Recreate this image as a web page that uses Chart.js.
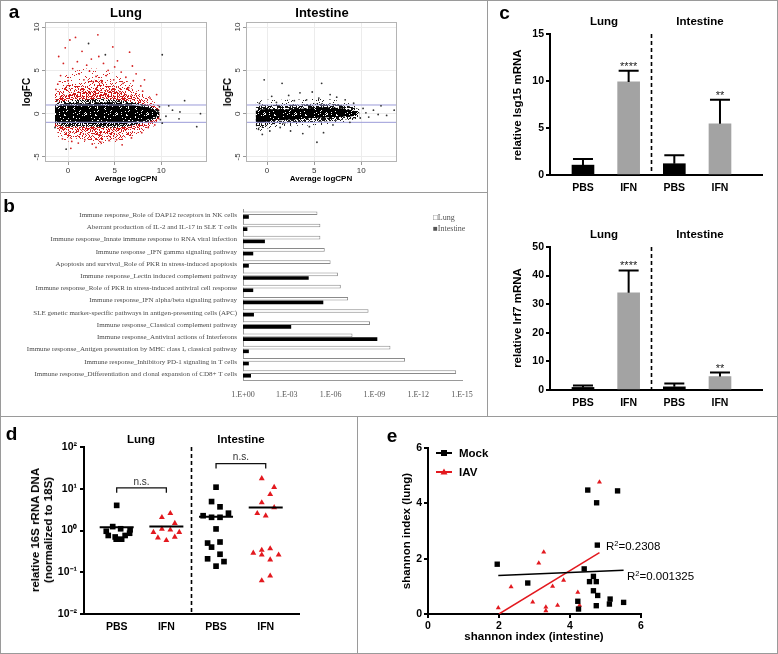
<!DOCTYPE html>
<html>
<head>
<meta charset="utf-8">
<script src="https://cdn.jsdelivr.net/npm/chart.js@4.4.0/dist/chart.umd.min.js"></script>
<style>
  body { margin: 0; background: #fff; }
  #fig { position: relative; width: 778px; height: 654px; overflow: hidden; font-family: "Liberation Sans", Arial, sans-serif; }
  #fig canvas { position: absolute; }
  .rule { position: absolute; background: #9a9a9a; }
  .lab { position: absolute; white-space: nowrap; line-height: 1; color: #000; }
  .lab sup { font-size: 0.65em; vertical-align: 0.55em; }
</style>
</head>
<body>
<div id="fig">
  <canvas id="aLung" width="215" height="192" style="left:0;top:0"></canvas>
  <canvas id="aInt" width="277" height="192" style="left:210px;top:0"></canvas>
  <canvas id="bBar" width="487" height="221" style="left:0;top:195px"></canvas>
  <canvas id="cIsg" width="283" height="210" style="left:495px;top:0"></canvas>
  <canvas id="cIrf" width="283" height="190" style="left:495px;top:230px"></canvas>
  <canvas id="dDots" width="357" height="234" style="left:0;top:420px"></canvas>
  <canvas id="eCorr" width="421" height="234" style="left:357px;top:420px"></canvas>
</div>
<script>
// ---- panel a: MA plots (envelopes of the dense clouds + scattered outliers) ----
const lungX       = [-1.4, -0.8, 0, 1, 2, 3, 4, 5, 6, 7, 8, 9, 9.8];
const lungCoreHi  = [0.6, 1.0, 1.1, 1.2, 1.2, 1.3, 1.3, 1.3, 1.2, 1.0, 0.8, 0.5, 0.2];
const lungCoreLo  = [-0.8, -1.1, -1.2, -1.2, -1.2, -1.2, -1.3, -1.3, -1.2, -1.0, -0.8, -0.5, -0.2];
const lungHaloHi  = [1.0, 1.4, 1.5, 1.6, 1.6, 1.7, 1.7, 1.6, 1.5, 1.3, 1.1, 0.8, 0.4];
const lungHaloLo  = [-1.1, -1.4, -1.5, -1.5, -1.5, -1.5, -1.6, -1.6, -1.5, -1.3, -1.1, -0.8, -0.4];
const lungRedMidHi = [1.6, 2.0, 2.3, 2.5, 2.6, 2.7, 2.7, 2.6, 2.3, 2.0, 1.6, 1.1, 0.6];
const lungRedMidLo = [-1.5, -1.9, -2.1, -2.2, -2.3, -2.4, -2.4, -2.3, -2.1, -1.8, -1.5, -1.1, -0.6];
const lungRedHi   = [2.3, 2.9, 3.3, 3.6, 3.8, 3.9, 3.9, 3.7, 3.3, 2.8, 2.2, 1.5, 0.9];
const lungRedLo   = [-1.9, -2.5, -2.8, -2.9, -3.0, -3.1, -3.2, -3.1, -2.8, -2.4, -1.9, -1.4, -0.8];
const lungRedFarHi = [3.0, 4.0, 4.6, 5.0, 5.2, 5.2, 5.0, 4.6, 4.0, 3.3, 2.6, 1.8, 1.0];
const lungRedFarLo = [-2.3, -2.9, -3.2, -3.3, -3.4, -3.5, -3.5, -3.3, -3.0, -2.6, -2.1, -1.6, -1.0];
const lungRedPts = [[0.2,8.5],[0.8,8.8],[3.2,9.1],[-0.3,7.6],[4.8,7.7],[1.5,7.2],[6.6,7.1],[-1.0,6.6],
  [2.5,6.3],[5.3,6.1],[3.8,5.8],[6.9,5.5],[0.5,5.2],[2.0,5.6],[4.3,5.0],[5.7,4.8],[7.3,4.6],[-0.8,4.4],
  [1.2,4.6],[3.0,4.3],[6.2,4.2],[8.2,3.9],[0.0,3.8],[2.7,3.7],[4.9,3.9],[7.8,3.2],[-1.1,3.4],[5.9,3.5],
  [1.7,3.9],[3.6,3.6],[0.4,-3.2],[1.8,-3.0],[3.5,-3.3],[5.2,-3.0],[-0.6,-2.9],[6.8,-2.8],[2.6,-3.5],
  [7.9,-2.2],[4.4,-3.1],[1.1,-3.4],[8.6,-1.6],[9.3,-1.3],[8.0,2.6],[8.8,1.8],[-1.3,2.8],[7.0,3.8],[9.5,2.2],
  [3.3,6.6],[1.0,6.0],[5.0,5.4],[-0.5,5.8],[4.1,4.4],[6.5,3.0],[2.3,4.9],[0.3,-4.0],[3.0,-3.9],[5.8,-3.6]];
const lungBlackPts = [[-0.2,-4.1],[9.8,0.8],[10.5,-0.3],[11.2,0.4],[12.5,1.5],[13.8,-1.5],[10.1,-1.1],
  [9.6,0.2],[11.9,-0.6],[-1.4,-1.6],[-1.2,1.5],[9.9,-0.7],[12.0,0.2],[14.2,0.0],[10.8,0.9],[4.0,6.8],
  [2.2,8.1],[10.1,6.8]];
const intX       = [-1.2, -0.8, 0, 1, 2, 3, 4, 5, 6, 7, 8, 9, 9.8];
const intCoreHi  = [0.3, 0.45, 0.5, 0.5, 0.5, 0.55, 0.6, 0.65, 0.7, 0.7, 0.6, 0.4, 0.15];
const intCoreLo  = [-1.0, -1.2, -0.9, -0.8, -0.7, -0.65, -0.6, -0.5, -0.45, -0.4, -0.35, -0.3, -0.1];
const intHaloHi  = [0.7, 0.9, 1.0, 1.0, 1.0, 1.05, 1.1, 1.15, 1.2, 1.15, 1.0, 0.8, 0.5];
const intHaloLo  = [-1.4, -1.6, -1.3, -1.2, -1.1, -1.05, -1.0, -0.95, -0.9, -0.85, -0.7, -0.6, -0.4];
const intFarHi   = [1.2, 1.5, 1.6, 1.6, 1.6, 1.6, 1.7, 1.7, 1.7, 1.6, 1.4, 1.1, 0.7];
const intFarLo   = [-1.7, -2.0, -1.7, -1.6, -1.5, -1.4, -1.4, -1.3, -1.3, -1.2, -1.0, -0.8, -0.6];
const intPts = [[-0.3,3.9],[1.6,3.5],[5.8,3.5],[4.8,2.5],[0.5,2.0],[2.3,2.1],[3.5,2.4],[6.7,2.2],[8.3,1.6],
  [7.4,1.9],[1.0,1.3],[2.9,1.5],[4.2,1.6],[5.5,1.8],[9.2,1.2],[-0.8,1.2],[10.2,0.6],[11.3,0.4],[12.1,0.9],
  [13.5,0.4],[10.8,-0.4],[12.7,-0.2],[-0.5,-2.4],[0.3,-2.0],[2.5,-2.0],[3.8,-2.3],[6.0,-2.2],[5.3,-3.3],
  [-0.9,-1.8],[1.4,-1.6],[7.0,-1.3],[8.8,-1.0],[4.5,-1.5],[10.5,0.1],[11.8,-0.1],[9.9,-0.5]];
const foldCut = 1;

// ---- panel b: pathway enrichment, -log10(p) ----
const pathways = [
  'Immune response_Role of DAP12 receptors in NK cells',
  'Aberrant production of IL-2 and IL-17 in SLE T cells',
  'Immune response_Innate immune response to RNA viral infection',
  'Immune response _IFN gamma signaling pathway',
  'Apoptosis and survival_Role of PKR in stress-induced apoptosis',
  'Immune response_Lectin induced complement pathway',
  'Immune response_Role of PKR in stress-induced antiviral cell response',
  'Immune response_IFN alpha/beta signaling pathway',
  'SLE genetic marker-specific pathways in antigen-presenting cells (APC)',
  'Immune response_Classical complement pathway',
  'Immune response_Antiviral actions of Interferons',
  'Immune response_Antigen presentation by MHC class I, classical pathway',
  'Immune response_Inhibitory PD-1 signaling in T cells',
  'Immune response_Differentiation and clonal expansion of CD8+ T cells'];
const lungNegLogP      = [5.1, 5.3, 5.3, 5.6, 6.0, 6.5, 6.7, 7.2, 8.6, 8.7, 7.5, 10.1, 11.1, 14.6];
const intestineNegLogP = [0.4, 0.3, 1.5, 0.7, 0.4, 4.5, 0.7, 5.5, 0.75, 3.3, 9.2, 0.4, 0.4, 0.55];
const pTicks = [0, 3, 6, 9, 12, 15];

// ---- panel c: qPCR ----
const groups   = ['PBS', 'IFN', 'PBS', 'IFN'];
const isg15    = [1.05, 9.9, 1.2, 5.45];
const isg15Sd  = [0.65, 1.2, 0.9, 2.55];
const irf7     = [0.9, 34.0, 1.1, 4.7];
const irf7Sd   = [0.7, 7.8, 1.2, 1.4];
const stars    = ['', '****', '', '**'];

// ---- panel d: 16S rRNA DNA (value, jitter) ----
const dLungPbs = [4.0, 1.24, 1.1, 1.04, 0.96, 0.76, 0.7, 0.76, 0.86, 0.62, 0.62];
const dLungPbsJ = [0, -0.08, 0.08, 0.27, -0.21, -0.17, -0.03, 0.17, 0.26, -0.01, 0.1];
const dLungIfn = [2.07, 2.57, 1.49, 0.91, 1.09, 0.91, 0.67, 0.58, 0.7, 1.04];
const dLungIfnJ = [-0.09, 0.08, 0.17, -0.26, -0.09, 0.26, -0.17, 0, 0.17, 0.08];
const dIntPbs = [10.9, 4.93, 3.69, 2.26, 2.07, 2.07, 2.6, 1.09, 0.5, 0.53, 0.4, 0.27, 0.21, 0.18, 0.14];
const dIntPbsJ = [0, -0.09, 0.08, -0.26, -0.09, 0.08, 0.25, 0, -0.17, 0.08, -0.09, 0.08, -0.17, 0.16, 0];
const dIntIfn = [17.6, 10.9, 7.35, 4.67, 3.56, 2.57, 2.26, 0.29, 0.34, 0.37, 0.26, 0.26, 0.2, 0.082, 0.063];
const dIntIfnJ = [-0.08, 0.17, 0.09, -0.08, 0.17, -0.17, 0, -0.25, -0.08, 0.09, -0.08, 0.26, 0.09, 0.09, -0.08];
const dMedians = [1.2, 1.24, 2.14, 3.56];

// ---- panel e: shannon index ----
const mockX = [1.95, 2.81, 4.22, 4.24, 4.40, 4.50, 4.75, 4.77, 4.66, 4.55, 4.74, 4.66, 4.78, 4.74, 5.13, 5.11, 5.34, 5.51];
const mockY = [1.80, 1.12, 0.46, 0.18, 1.63, 4.48, 4.02, 2.49, 1.36, 1.17, 1.17, 0.84, 0.67, 0.30, 0.54, 0.36, 4.45, 0.42];
const iavX  = [1.98, 2.34, 2.95, 3.12, 3.26, 3.32, 3.32, 3.51, 3.65, 3.82, 4.22, 4.27, 4.83];
const iavY  = [0.22, 0.98, 0.43, 1.84, 2.24, 0.25, 0.12, 1.0, 0.31, 1.22, 0.78, 0.31, 4.77];
const mockFitX = [1.98, 5.51], mockFitY = [1.39, 1.58];
const iavFitX  = [2.0, 4.83],  iavFitY  = [0.0, 2.22];

const RED = '#e3191f';
const SANS = '"Liberation Sans", Arial, sans-serif';
const SERIF = '"Liberation Serif", "Times New Roman", serif';

Chart.defaults.font.family = SANS;
Chart.defaults.color = '#000';
Chart.defaults.animation = false;
Chart.defaults.responsive = false;
Chart.defaults.plugins.legend.display = false;
Chart.defaults.plugins.tooltip.enabled = false;

const el = id => document.getElementById(id);
const fixW = w => s => { s.width = w; };
const fixH = h => s => { s.height = h; };
const setTicks = vals => s => { s.ticks = vals.map(v => ({ value: v })); };
const xy = (xs, ys) => xs.map((x, i) => ({ x, y: ys[i] }));
const jit = (g, ys, js) => ys.map((y, i) => ({ x: g + js[i], y }));

// grainy texture so the dense parts of the MA clouds look dotted
function speckle(color, density) {
  const c = document.createElement('canvas');
  c.width = 31; c.height = 29;
  const g = c.getContext('2d');
  g.fillStyle = color;
  for (let i = 0; i < c.width; i++)
    for (let j = 0; j < c.height; j++) {
      const h = (Math.imul(i + 1, 92837111) ^ Math.imul(j + 1, 689287499)) >>> 0;
      if ((h % 1000) / 1000 < density) g.fillRect(i, j, 1, 1);
    }
  return g.createPattern(c, 'repeat');
}

function band(xs, hi, lo, color, order) {
  const common = { type: 'line', borderWidth: 0, borderColor: 'rgba(0,0,0,0)', pointRadius: 0, tension: 0.35, order };
  return [
    { ...common, data: xy(xs, hi), fill: '+1', backgroundColor: color },
    { ...common, data: xy(xs, lo), fill: false },
  ];
}

const cutLine = (y, x0, x1) => ({
  type: 'line', data: [{ x: x0, y }, { x: x1, y }], borderColor: '#9b9bd8', borderWidth: 1,
  pointRadius: 0, fill: false, order: 1,
});
const dots = (pts, color) => ({
  type: 'scatter', data: pts.map(([x, y]) => ({ x, y })), pointRadius: 0.9,
  pointBackgroundColor: color, pointBorderWidth: 0, order: 0,
});

const decor = {
  id: 'decor',
  afterDatasetsDraw(chart, args, o) {
    const { ctx, chartArea: ca, scales } = chart;
    const xs = scales.x, ys = scales.y;
    ctx.save();
    if (o.box) {
      ctx.strokeStyle = o.box; ctx.lineWidth = 1;
      ctx.strokeRect(ca.left + 0.5, ca.top + 0.5, ca.right - ca.left - 1, ca.bottom - ca.top - 1);
    }
    if (o.rotTicks) {
      ctx.fillStyle = '#333'; ctx.font = '8px ' + SANS;
      ctx.textAlign = 'center'; ctx.textBaseline = 'middle';
      ys.ticks.forEach(t => {
        ctx.save();
        ctx.translate(ca.left - 8, ys.getPixelForValue(t.value));
        ctx.rotate(-Math.PI / 2);
        ctx.fillText(String(t.value), 0, 0);
        ctx.restore();
      });
    }
    if (o.divider != null) {
      const x = Math.round(xs.getPixelForValue(o.divider)) + 0.5;
      ctx.strokeStyle = '#000'; ctx.lineWidth = 1.6; ctx.setLineDash([4, 3]);
      ctx.beginPath(); ctx.moveTo(x, ca.top); ctx.lineTo(x, ca.bottom); ctx.stroke();
      ctx.setLineDash([]);
    }
    if (o.mean) {
      chart.getDatasetMeta(0).data.forEach((bar, i) => {
        const top = ys.getPixelForValue(o.mean[i] + o.sd[i]);
        ctx.strokeStyle = '#000'; ctx.lineWidth = 2;
        ctx.beginPath();
        ctx.moveTo(bar.x, bar.y); ctx.lineTo(bar.x, top);
        ctx.moveTo(bar.x - 10, top); ctx.lineTo(bar.x + 10, top);
        ctx.stroke();
        if (o.stars[i]) {
          ctx.fillStyle = '#222'; ctx.font = '11px ' + SANS;
          ctx.textAlign = 'center'; ctx.textBaseline = 'alphabetic';
          ctx.fillText(o.stars[i], bar.x, top - 1);
        }
      });
    }
    if (o.medians) {
      ctx.strokeStyle = '#000'; ctx.lineWidth = 2;
      o.medians.forEach((m, i) => {
        const x = xs.getPixelForValue(i + 1), y = ys.getPixelForValue(m);
        ctx.beginPath(); ctx.moveTo(x - 17, y); ctx.lineTo(x + 17, y); ctx.stroke();
      });
    }
    if (o.brackets) {
      ctx.strokeStyle = '#111'; ctx.lineWidth = 1.3; ctx.fillStyle = '#333';
      ctx.font = '10px ' + SANS; ctx.textAlign = 'center'; ctx.textBaseline = 'middle';
      o.brackets.forEach(b => {
        const x1 = xs.getPixelForValue(b.a), x2 = xs.getPixelForValue(b.b), y = ys.getPixelForValue(b.v);
        ctx.beginPath();
        ctx.moveTo(x1, y + 5); ctx.lineTo(x1, y); ctx.lineTo(x2, y); ctx.lineTo(x2, y + 5);
        ctx.stroke();
        ctx.fillText('n.s.', (x1 + x2) / 2, y - 6);
      });
    }
    if (o.legend) {
      o.legend.forEach((it, i) => {
        const y = ca.top + 5 + i * 19, x0 = ca.left + 8, x1 = ca.left + 24;
        ctx.strokeStyle = it.color; ctx.lineWidth = 2;
        ctx.beginPath(); ctx.moveTo(x0, y); ctx.lineTo(x1, y); ctx.stroke();
        ctx.fillStyle = it.color;
        if (it.style === 'rect') ctx.fillRect(x0 + 5, y - 3, 6, 6);
        else { ctx.beginPath(); ctx.moveTo(x0 + 8, y - 3.5); ctx.lineTo(x0 + 11.5, y + 2.5); ctx.lineTo(x0 + 4.5, y + 2.5); ctx.closePath(); ctx.fill(); }
        ctx.fillStyle = '#000'; ctx.font = 'bold 11.5px ' + SANS;
        ctx.textAlign = 'left'; ctx.textBaseline = 'middle';
        ctx.fillText(it.label, x1 + 7, y + 0.5);
      });
    }
    ctx.restore();
  }
};
Chart.register(decor);

// ---------- panel a ----------
function maOptions(xmin, xmax, yW, padR) {
  const grid = { color: '#ececec', tickColor: '#999', tickLength: 3 };
  return {
    layout: { padding: { top: 22, right: padR, left: 0, bottom: 0 } },
    scales: {
      x: { type: 'linear', min: xmin, max: xmax, afterBuildTicks: setTicks([0, 5, 10]), afterFit: fixH(30),
           grid, border: { display: false },
           ticks: { font: { size: 8 }, color: '#333', padding: 1, maxRotation: 0 } },
      y: { min: -5.58, max: 10.58, afterBuildTicks: setTicks([-5, 0, 5, 10]), afterFit: fixW(yW),
           grid, border: { display: false }, ticks: { display: false } }
    },
    plugins: { decor: { box: '#b4b4b4', rotTicks: true } }
  };
}

new Chart(el('aLung'), {
  type: 'scatter',
  data: { datasets: [
    ...band(lungX, lungRedFarHi, lungRedFarLo, speckle('#d42424', 0.07), 9),
    ...band(lungX, lungRedHi, lungRedLo, speckle('#d42020', 0.25), 8),
    ...band(lungX, lungRedMidHi, lungRedMidLo, speckle('#d01818', 0.5), 7),
    ...band(lungX, lungHaloHi, lungHaloLo, speckle('#111', 0.55), 6),
    ...band(lungX, lungCoreHi, lungCoreLo, speckle('#000', 0.88), 5),
    cutLine(foldCut, -3, 16), cutLine(-foldCut, -3, 16),
    dots(lungRedPts, '#d42020'), dots(lungBlackPts, '#333'),
  ] },
  options: maOptions(-2.47, 14.9, 45, 8)
});

new Chart(el('aInt'), {
  type: 'scatter',
  data: { datasets: [
    ...band(intX, intFarHi, intFarLo, speckle('#222', 0.1), 7),
    ...band(intX, intHaloHi, intHaloLo, speckle('#111', 0.5), 6),
    ...band(intX, intCoreHi, intCoreLo, speckle('#000', 0.9), 5),
    cutLine(foldCut, -3, 16), cutLine(-foldCut, -3, 16),
    dots(intPts, '#333'),
  ] },
  options: maOptions(-2.23, 13.8, 36, 90)
});

// ---------- panel b ----------
new Chart(el('bBar'), {
  type: 'bar',
  data: { labels: pathways, datasets: [
    { label: 'Lung', data: lungNegLogP, backgroundColor: '#fff', borderColor: '#8a8a8a', borderWidth: 1,
      barPercentage: 1, categoryPercentage: 0.6 },
    { label: 'Intestine', data: intestineNegLogP, backgroundColor: '#000', borderWidth: 0,
      barPercentage: 1, categoryPercentage: 0.6 },
  ] },
  options: {
    indexAxis: 'y',
    layout: { padding: { top: 14, right: 25, left: 0, bottom: 0 } },
    scales: {
      x: { min: 0, max: 15, afterBuildTicks: setTicks(pTicks), afterFit: fixH(36),
           grid: { display: false, drawTicks: false }, border: { color: '#9a9a9a' },
           ticks: { font: { family: SERIF, size: 8 }, color: '#555', padding: 10, maxRotation: 0,
                    callback: v => '1.E' + (v === 0 ? '+00' : '-' + String(v).padStart(2, '0')) } },
      y: { afterFit: fixW(243), grid: { display: false, drawTicks: false }, border: { color: '#9a9a9a' },
           ticks: { font: { family: SERIF, size: 7 }, color: '#4a4a4a', padding: 6, autoSkip: false } }
    }
  }
});

// ---------- panel c ----------
function qpcr(id, mean, sd, ymax, step, padTop, xH) {
  return new Chart(el(id), {
    type: 'bar',
    data: { datasets: [{
      data: mean.map((y, i) => ({ x: i + 1, y })),
      backgroundColor: ['#000', '#a3a3a3', '#000', '#a3a3a3'], borderWidth: 0, barThickness: 22,
    }] },
    options: {
      layout: { padding: { top: padTop, right: 16, left: 0, bottom: 0 } },
      scales: {
        x: { type: 'linear', min: 0.278, max: 4.92, offset: false, z: 1,
             afterBuildTicks: setTicks([1, 2, 3, 4]), afterFit: fixH(xH),
             grid: { display: false, drawTicks: false, offset: false }, border: { color: '#000', width: 2 },
             ticks: { font: { size: 10.5, weight: 'bold' }, padding: 7, maxRotation: 0, callback: v => groups[v - 1] } },
        y: { min: 0, max: ymax, z: 1, afterBuildTicks: setTicks(Array.from({ length: ymax / step + 1 }, (_, i) => i * step)),
             afterFit: fixW(55),
             grid: { drawOnChartArea: false, tickLength: 4, color: '#000', lineWidth: 2 },
             border: { color: '#000', width: 2 },
             ticks: { font: { size: 10.5, weight: 'bold' }, padding: 2 } }
      },
      plugins: { decor: { divider: 2.5, mean, sd, stars } }
    }
  });
}
qpcr('cIsg', isg15, isg15Sd, 15, 5, 34, 35);
qpcr('cIrf', irf7, irf7Sd, 50, 10, 17, 30);

// ---------- panel d ----------
const supDigits = { '-': '⁻', '0': '⁰', '1': '¹', '2': '²' };
new Chart(el('dDots'), {
  type: 'scatter',
  data: { datasets: [
    { data: jit(1, dLungPbs, dLungPbsJ), pointStyle: 'rect', pointRadius: 4, pointBackgroundColor: '#000', pointBorderWidth: 0 },
    { data: jit(2, dLungIfn, dLungIfnJ), pointStyle: 'triangle', pointRadius: 3.4, pointBackgroundColor: RED, pointBorderWidth: 0 },
    { data: jit(3, dIntPbs, dIntPbsJ), pointStyle: 'rect', pointRadius: 4, pointBackgroundColor: '#000', pointBorderWidth: 0 },
    { data: jit(4, dIntIfn, dIntIfnJ), pointStyle: 'triangle', pointRadius: 3.4, pointBackgroundColor: RED, pointBorderWidth: 0 },
  ] },
  options: {
    layout: { padding: { top: 27, right: 58, left: 0, bottom: 0 } },
    scales: {
      x: { type: 'linear', min: 0.342, max: 4.67, z: 1, afterBuildTicks: setTicks([1, 2, 3, 4]), afterFit: fixH(40),
           grid: { display: false, drawTicks: false }, border: { color: '#000', width: 2 },
           ticks: { font: { size: 10.5, weight: 'bold' }, padding: 7, maxRotation: 0, callback: v => groups[v - 1] } },
      y: { type: 'logarithmic', min: 0.01, max: 100, z: 1, afterBuildTicks: setTicks([0.01, 0.1, 1, 10, 100]),
           afterFit: fixW(84),
           grid: { drawOnChartArea: false, tickLength: 4, color: '#000', lineWidth: 2 },
           border: { color: '#000', width: 2 },
           ticks: { font: { size: 10.5, weight: 'bold' }, padding: 3,
                    callback: v => '10' + String(Math.round(Math.log10(v))).split('').map(c => supDigits[c]).join('') } }
    },
    plugins: { decor: { divider: 2.5, medians: dMedians, brackets: [{ a: 1, b: 2, v: 10.5 }, { a: 3, b: 4, v: 40 }] } }
  }
});

// ---------- panel e ----------
new Chart(el('eCorr'), {
  type: 'scatter',
  data: { datasets: [
    { type: 'line', data: xy(mockFitX, mockFitY), borderColor: '#000', borderWidth: 1.5, pointRadius: 0, fill: false },
    { type: 'line', data: xy(iavFitX, iavFitY), borderColor: RED, borderWidth: 1.5, pointRadius: 0, fill: false },
    { data: xy(mockX, mockY), pointStyle: 'rect', pointRadius: 3.8, pointBackgroundColor: '#000', pointBorderWidth: 0 },
    { data: xy(iavX, iavY), pointStyle: 'triangle', pointRadius: 2.9, pointBackgroundColor: RED, pointBorderWidth: 0 },
  ] },
  options: {
    layout: { padding: { top: 28, right: 137, left: 0, bottom: 0 } },
    scales: {
      x: { type: 'linear', min: 0, max: 6, z: 1, afterBuildTicks: setTicks([0, 2, 4, 6]), afterFit: fixH(40),
           grid: { drawOnChartArea: false, tickLength: 4, color: '#000', lineWidth: 2 },
           border: { color: '#000', width: 2 },
           ticks: { font: { size: 10.5, weight: 'bold' }, padding: 2, maxRotation: 0 } },
      y: { min: 0, max: 6, z: 1, afterBuildTicks: setTicks([0, 2, 4, 6]), afterFit: fixW(71),
           grid: { drawOnChartArea: false, tickLength: 4, color: '#000', lineWidth: 2 },
           border: { color: '#000', width: 2 },
           ticks: { font: { size: 10.5, weight: 'bold' }, padding: 2 } }
    },
    plugins: { decor: { legend: [{ label: 'Mock', color: '#000', style: 'rect' }, { label: 'IAV', color: RED, style: 'tri' }] } }
  }
});

// ---------- frame, letters and titles ----------
const fig = el('fig');
function rule(l, t, w, h) {
  const d = document.createElement('div');
  d.className = 'rule';
  Object.assign(d.style, { left: l + 'px', top: t + 'px', width: w + 'px', height: h + 'px' });
  fig.appendChild(d);
}
rule(0, 0, 778, 1); rule(0, 653, 778, 1); rule(0, 0, 1, 654); rule(777, 0, 1, 654);
rule(0, 192, 487, 1); rule(487, 0, 1, 416); rule(0, 416, 778, 1); rule(357, 416, 1, 238);

function put(html, x, y, css, mode) {
  const d = document.createElement('div');
  d.className = 'lab';
  d.innerHTML = html;
  d.style.cssText += css;
  d.style.left = x + 'px';
  d.style.top = y + 'px';
  d.style.transform = mode === 'l' ? 'translate(0,-50%)'
    : mode === 'r' ? 'translate(-50%,-50%) rotate(-90deg)' : 'translate(-50%,-50%)';
  fig.appendChild(d);
}
const B = (s) => `font-weight:bold;font-size:${s}px;`;

put('a', 14, 11.4, B(19)); put('b', 9, 205.4, B(19)); put('c', 504.5, 12.4, B(19));
put('d', 11.5, 433.4, B(19)); put('e', 392, 435.4, B(19));

put('Lung', 126, 11.5, B(13)); put('Intestine', 322, 11.5, B(13));
put('logFC', 27, 92, B(10), 'r'); put('logFC', 228, 92, B(10), 'r');
put('Average logCPN', 126, 178.5, B(8)); put('Average logCPN', 321, 178.5, B(8));

put('□Lung', 433, 218, `font-family:${SERIF};font-size:8px;color:#555;`, 'l');
put('■Intestine', 433, 229, `font-family:${SERIF};font-size:8px;color:#555;`, 'l');

put('Lung', 604, 22, B(11.5)); put('Intestine', 700, 22, B(11.5));
put('Lung', 604, 234.5, B(11.5)); put('Intestine', 700, 234.5, B(11.5));
put('relative Isg15 mRNA', 518, 104.5, B(11.5), 'r');
put('relative Irf7 mRNA', 518, 318, B(11.5), 'r');

put('Lung', 141, 440, B(11.5)); put('Intestine', 241, 440, B(11.5));
put('relative 16S rRNA DNA<br>(normalized to 18S)', 42, 530, B(11.5) + 'text-align:center;line-height:13px;', 'r');

put('shannon index (lung)', 407, 531, B(11.5), 'r');
put('shannon index (intestine)', 534, 637, B(11.5));
put('R<sup>2</sup>=0.2308', 606, 546, 'font-size:11.5px;', 'l');
put('R<sup>2</sup>=0.001325', 627, 576, 'font-size:11.5px;', 'l');
</script>
</body>
</html>
